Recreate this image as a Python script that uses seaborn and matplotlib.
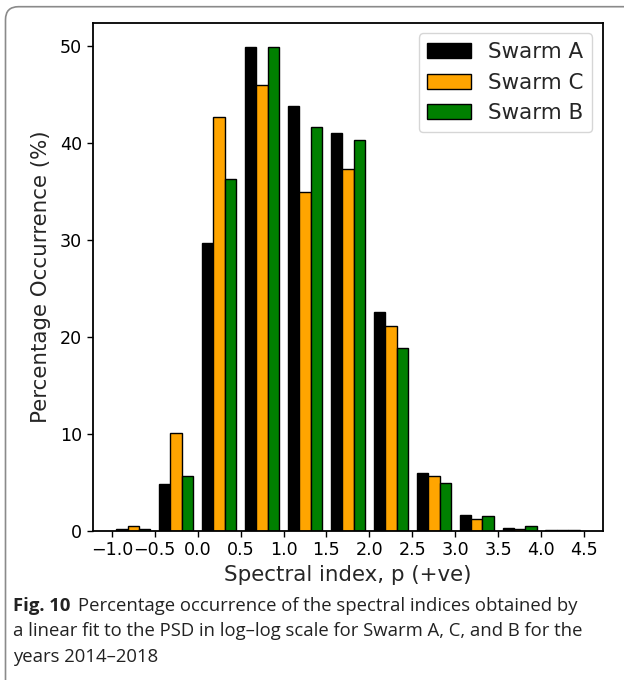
import numpy as np
import pandas as pd
import matplotlib
matplotlib.use("Agg")
import matplotlib.pyplot as plt
from matplotlib.patches import FancyBboxPatch
from matplotlib.transforms import IdentityTransform
import seaborn as sns

# Histogram bins of the spectral index p (bin centres, width 0.5)
bin_centres = [-0.75, -0.25, 0.25, 0.75, 1.25, 1.75, 2.25, 2.75, 3.25, 3.75, 4.25]

# Percentage occurrence per bin for each satellite
swarm_a = [0.25, 4.9, 29.7, 49.9, 43.9, 41.1, 22.6, 6.0, 1.65, 0.35, 0.08]
swarm_c = [0.5, 10.1, 42.7, 46.0, 35.0, 37.4, 21.2, 5.7, 1.25, 0.18, 0.08]
swarm_b = [0.2, 5.7, 36.3, 49.95, 41.7, 40.3, 18.9, 5.0, 1.5, 0.5, 0.08]

satellites = ["Swarm A", "Swarm C", "Swarm B"]
colours = ["black", "orange", "green"]
x_ticks = [-1.0, -0.5, 0.0, 0.5, 1.0, 1.5, 2.0, 2.5, 3.0, 3.5, 4.0, 4.5]

df = pd.concat([
    pd.DataFrame({"p": bin_centres, "pct": vals, "sat": name})
    for name, vals in zip(satellites, [swarm_a, swarm_c, swarm_b])
], ignore_index=True)

sns.set_style("ticks")
plt.rcParams["font.family"] = ["DejaVu Sans"]

W, H = 624, 680
fig = plt.figure(figsize=(W / 100, H / 100), dpi=100)
ax = fig.add_axes([92.5 / W, 1 - 531 / H, (603 - 92.5) / W, (531 - 22.7) / H])

sns.barplot(data=df, x="p", y="pct", hue="sat", hue_order=satellites,
            palette=colours, native_scale=True, width=0.8, saturation=1,
            edgecolor="black", linewidth=1.0, ax=ax, errorbar=None)

ax.set_xticks(x_ticks)
ax.set_xticklabels([f"{t:.1f}".replace("-", "\u2212") for t in x_ticks])
ax.set_xlim(-1.225, 4.72)
ax.set_ylim(0, 52.45)
ax.set_yticks([0, 10, 20, 30, 40, 50])
ax.tick_params(labelsize=12.6, length=4, width=1, colors="black")
for s in ax.spines.values():
    s.set_visible(True)
    s.set_linewidth(1.3)
    s.set_color("black")
ax.set_xlabel("Spectral index, p (+ve)", fontsize=15.4, labelpad=4)
ax.set_ylabel("Percentage Occurrence (%)", fontsize=15.4, labelpad=6)

old = ax.get_legend()
handles = old.legend_handles
labels = [t.get_text() for t in old.texts]
old.remove()
for h in handles:
    h.set_edgecolor("black")
    h.set_linewidth(1.0)
ax.legend(handles, labels, loc="upper right", fontsize=15.4, frameon=True,
          fancybox=True, framealpha=0.8, edgecolor="#cccccc",
          handlelength=2.05)

# Caption below the plot
cap_font = "Open Sans"
cap_size = 13.3
x0 = 13
y1 = H - 611
fig.canvas.draw()
r = fig.canvas.get_renderer()
t_bold = fig.text(x0 / W, y1 / H, "Fig. 10", fontsize=cap_size, family=cap_font,
                  fontweight="bold", color="#222222", va="baseline")
bb = t_bold.get_window_extent(renderer=r)
fig.text((bb.x1 + 8) / W, y1 / H,
         "Percentage occurrence of the spectral indices obtained by",
         fontsize=cap_size, family=cap_font, color="#222222", va="baseline")
fig.text(x0 / W, (H - 636.5) / H,
         "a linear fit to the PSD in log\u2013log scale for Swarm A, C, and B for the",
         fontsize=cap_size, family=cap_font, color="#222222", va="baseline")
fig.text(x0 / W, (H - 662) / H, "years 2014\u20132018",
         fontsize=cap_size, family=cap_font, color="#222222", va="baseline")

# Rounded frame around the figure and caption
frame = FancyBboxPatch((5.5, -20), W + 40, H - 6.7 + 20,
                       boxstyle="round,pad=0,rounding_size=13",
                       transform=IdentityTransform(), fill=False,
                       edgecolor="#8a8a8a", linewidth=1.2)
fig.patches.append(frame)

fig.savefig("out.png", dpi=100)
